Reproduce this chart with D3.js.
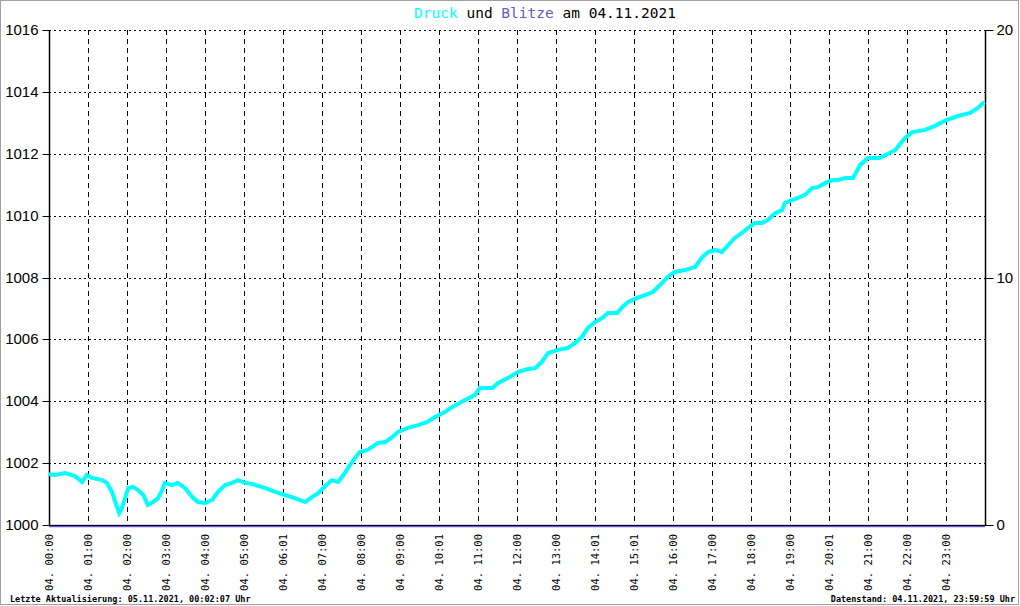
<!DOCTYPE html>
<html><head><meta charset="utf-8">
<script src="https://cdn.jsdelivr.net/npm/d3@7"></script>
<style>
html,body{margin:0;padding:0;background:#fff;}
svg{display:block;}
</style></head>
<body>
<svg id="c" width="1020" height="606"></svg>
<script>
// ---- data ----
const pressureTimes = ["00:00","00:09","00:25","00:40","00:51","00:58","01:06","01:22","01:29","01:37","01:42","01:48","01:52","01:57","02:02","02:09","02:17","02:25","02:32","02:40","02:48","02:54","02:58","03:09","03:18","03:29","03:40","03:49","04:00","04:11","04:20","04:31","04:42","04:51","05:02","05:12","05:32","05:48","06:03","06:18","06:34","06:45","06:54","07:05","07:15","07:25","07:35","07:43","07:51","07:58","08:09","08:17","08:26","08:37","08:48","08:57","09:12","09:28","09:42","09:54","10:09","10:20","10:40","10:55","11:03","11:22","11:31","11:46","12:02","12:17","12:28","12:38","12:48","13:03","13:18","13:29","13:40","13:49","14:00","14:11","14:20","14:34","14:42","14:51","15:05","15:17","15:29","15:43","15:52","16:03","16:18","16:34","16:45","16:54","17:05","17:15","17:25","17:35","17:46","17:55","18:06","18:17","18:26","18:37","18:48","18:52","19:03","19:12","19:23","19:34","19:43","19:54","20:05","20:14","20:25","20:37","20:48","21:00","21:18","21:42","21:57","22:08","22:28","22:43","22:58","23:18","23:37","23:49","23:59"];
const pressureValues = [1001.65,1001.62,1001.68,1001.58,1001.39,1001.62,1001.52,1001.45,1001.36,1001.07,1000.74,1000.39,1000.55,1000.87,1001.20,1001.23,1001.13,1000.97,1000.65,1000.74,1000.87,1001.13,1001.36,1001.29,1001.36,1001.20,1000.91,1000.74,1000.71,1000.81,1001.07,1001.29,1001.36,1001.45,1001.36,1001.33,1001.20,1001.07,1000.97,1000.87,1000.74,1000.91,1001.03,1001.26,1001.45,1001.39,1001.68,1001.94,1002.17,1002.36,1002.42,1002.52,1002.65,1002.68,1002.84,1003.01,1003.14,1003.23,1003.33,1003.49,1003.65,1003.81,1004.04,1004.20,1004.43,1004.43,1004.59,1004.75,1004.95,1005.04,1005.07,1005.27,1005.56,1005.66,1005.72,1005.88,1006.08,1006.37,1006.56,1006.69,1006.85,1006.85,1007.05,1007.21,1007.34,1007.43,1007.53,1007.82,1008.02,1008.18,1008.24,1008.34,1008.66,1008.82,1008.89,1008.82,1009.05,1009.28,1009.44,1009.60,1009.76,1009.76,1009.86,1010.08,1010.18,1010.41,1010.50,1010.57,1010.67,1010.89,1010.92,1011.05,1011.15,1011.15,1011.22,1011.22,1011.64,1011.86,1011.86,1012.12,1012.51,1012.70,1012.77,1012.90,1013.06,1013.22,1013.32,1013.48,1013.67];
const blitzeTimes = ["00:00","06:00","12:00","18:00","23:59"];
const blitzeValues = [0,0,0,0,0];
const hourTickLabels = ["04. 00:00","04. 01:00","04. 02:00","04. 03:00","04. 04:00","04. 05:00","04. 06:01","04. 07:00","04. 08:00","04. 09:00","04. 10:01","04. 11:00","04. 12:00","04. 13:00","04. 14:01","04. 15:01","04. 16:00","04. 17:00","04. 18:00","04. 19:00","04. 20:01","04. 21:00","04. 22:00","04. 23:00"];
const leftTicks = [1000,1002,1004,1006,1008,1010,1012,1014,1016];
const rightTicks = [0,10,20];
const titleParts = [["Druck","#00ffff"],[" und ","#000"],["Blitze","#6a5acd"],[" am 04.11.2021","#000"]];
const footLeft = "Letzte Aktualisierung: 05.11.2021, 00:02:07 Uhr";
const footRight = "Datenstand: 04.11.2021, 23:59:59 Uhr";

// ---- layout ----
const W = 1020, H = 606;
const L = 49, R = 985, T = 30, B = 525;
const mono = "'DejaVu Sans Mono', monospace";
const sans = "'Liberation Sans', Arial, sans-serif";
const toMin = s => { const [h,m] = s.split(":").map(Number); return h*60+m; };

const svg = d3.select("#c");
svg.append("rect").attr("x",0.5).attr("y",0.5).attr("width",W-2).attr("height",H-2)
  .attr("fill","#fff").attr("stroke","#a0a0a0").attr("stroke-width",1);

const x = d3.scaleLinear().domain([0,1440]).range([L,R]);
const y = d3.scaleLinear().domain([1000,1016]).range([B,T]);
const y2 = d3.scaleLinear().domain([0,20]).range([B,T]);

// horizontal dotted grid
svg.append("g").selectAll("line").data(leftTicks.filter(v=>v>1000)).join("line")
  .attr("x1",L).attr("x2",R).attr("y1",d=>Math.round(y(d))+0.5).attr("y2",d=>Math.round(y(d))+0.5)
  .attr("stroke","#000").attr("stroke-width",1).attr("stroke-dasharray","2,3");

// vertical dashed grid
svg.append("g").selectAll("line").data(d3.range(1,24)).join("line")
  .attr("x1",d=>Math.round(x(d*60))+0.5).attr("x2",d=>Math.round(x(d*60))+0.5)
  .attr("y1",T).attr("y2",B)
  .attr("stroke","#000").attr("stroke-width",1).attr("stroke-dasharray","5,4");

// left axis
const gl = svg.append("g").attr("transform",`translate(${L+0.5},0)`)
  .call(d3.axisLeft(y).tickValues(leftTicks).tickSize(7).tickPadding(4).tickFormat(d3.format("d")));
gl.select(".domain").remove();
gl.selectAll(".tick line").attr("stroke","#000");
gl.selectAll("text").attr("font-family",sans).attr("font-size",15).attr("fill","#000");
gl.selectAll(".tick").attr("transform",d=>`translate(0,${Math.round(y(d))+0.5})`);
svg.append("line").attr("x1",L+0.5).attr("x2",L+0.5).attr("y1",T).attr("y2",B+1).attr("stroke","#000").attr("stroke-width",1.5);

// right axis
const gr = svg.append("g").attr("transform",`translate(${R+0.5},0)`)
  .call(d3.axisRight(y2).tickValues(rightTicks).tickSize(8).tickPadding(3).tickFormat(d3.format("d")));
gr.select(".domain").remove();
gr.selectAll(".tick line").attr("stroke","#000");
gr.selectAll("text").attr("font-family",sans).attr("font-size",15).attr("fill","#000");
gr.selectAll(".tick").attr("transform",d=>`translate(0,${Math.round(y2(d))+0.5})`);
svg.append("line").attr("x1",R+0.5).attr("x2",R+0.5).attr("y1",T).attr("y2",B+1).attr("stroke","#000").attr("stroke-width",1.5);

// x tick labels
const gx = svg.append("g").attr("transform",`translate(0,${B})`)
  .call(d3.axisBottom(x).tickValues(d3.range(0,24).map(h=>h*60)).tickSize(0).tickFormat((d,i)=>hourTickLabels[i]));
gx.select(".domain").remove();
gx.selectAll(".tick").attr("transform",d=>`translate(${Math.round(x(d))+0.5},0)`);
gx.selectAll("text").attr("font-family",mono).attr("font-size",10.5).attr("fill","#000")
  .attr("text-anchor","end").attr("dy","0.35em").attr("transform","translate(0,9) rotate(-90)").attr("x",0).attr("y",0);

// blitze line (zero line)
const lineB = d3.line().x(d=>x(toMin(d[0]))).y(d=>y2(d[1]));
svg.append("path").datum(blitzeTimes.map((t,i)=>[t,blitzeValues[i]]))
  .attr("d", d => { const p = d.slice(); p[p.length-1] = ["24:00", p[p.length-1][1]]; return lineB(p); })
  .attr("fill","none").attr("stroke","#6a5acd").attr("stroke-width",2.5).attr("transform","translate(0,1)");
svg.append("line").attr("x1",L).attr("x2",R).attr("y1",B+0.5).attr("y2",B+0.5).attr("stroke","#000").attr("stroke-width",1);

// pressure line
const lineP = d3.line().x(d=>x(toMin(d[0]))).y(d=>y(d[1]));
svg.append("path").datum(pressureTimes.map((t,i)=>[t,pressureValues[i]]))
  .attr("d",lineP).attr("fill","none").attr("stroke","#00ffff").attr("stroke-width",4)
  .attr("stroke-linejoin","miter").attr("stroke-linecap","butt");

// title
const title = svg.append("text").attr("x",545).attr("y",18).attr("text-anchor","middle")
  .attr("font-family",mono).attr("font-size",14.5).attr("style","white-space:pre");
titleParts.forEach(([s,c])=>title.append("tspan").attr("fill",c).text(s));

// footers
svg.append("text").attr("x",10).attr("y",602).attr("font-family",mono).attr("font-size",8.5)
  .attr("font-weight","bold").attr("fill","#000").text(footLeft);
svg.append("text").attr("x",1015).attr("y",602).attr("text-anchor","end").attr("font-family",mono).attr("font-size",8.5)
  .attr("font-weight","bold").attr("fill","#000").text(footRight);
</script>
</body></html>
